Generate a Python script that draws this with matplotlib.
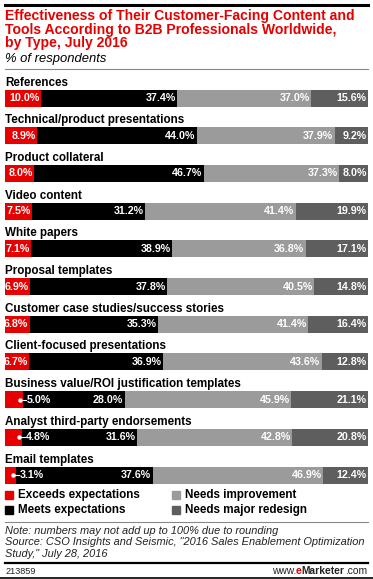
import matplotlib.pyplot as plt
import numpy as np

# data
categories = ["References", "Technical/product presentations", "Product collateral",
              "Video content", "White papers", "Proposal templates",
              "Customer case studies/success stories", "Client-focused presentations",
              "Business value/ROI justification templates",
              "Analyst third-party endorsements", "Email templates"]
exceeds = [10.0, 8.9, 8.0, 7.5, 7.1, 6.9, 6.8, 6.7, 5.0, 4.8, 3.1]
meets = [37.4, 44.0, 46.7, 31.2, 38.9, 37.8, 35.3, 36.9, 28.0, 31.6, 37.6]
improve = [37.0, 37.9, 37.3, 41.4, 36.8, 40.5, 41.4, 43.6, 45.9, 42.8, 46.9]
redesign = [15.6, 9.2, 8.0, 19.9, 17.1, 14.8, 16.4, 12.8, 21.1, 20.8, 12.4]
series_names = ["Exceeds expectations", "Meets expectations",
                "Needs improvement", "Needs major redesign"]
colors = ["#e60000", "#000000", "#9b9b9b", "#5e5e5e"]
title_lines = ["Effectiveness of Their Customer-Facing Content and",
               "Tools According to B2B Professionals Worldwide,",
               "by Type, July 2016"]
note_lines = ["Note: numbers may not add up to 100% due to rounding",
              "Source: CSO Insights and Seismic, \"2016 Sales Enablement Optimization",
              "Study,\" July 28, 2016"]

W, H = 373, 579
plt.rcParams['font.family'] = ['Liberation Sans', 'DejaVu Sans']
fig = plt.figure(figsize=(W / 100, H / 100), dpi=100)

def fy(p):  # pixel from top -> figure fraction
    return 1 - p / H

def fx(p):
    return p / W

# header
fig.add_artist(plt.Line2D([fx(5), fx(368)], [fy(5), fy(5)], color="black", lw=2.2))
for k, line in enumerate(title_lines):
    fig.text(fx(5), fy(16 + 13.6 * k), line, color="#e60000", fontsize=10.1,
             fontweight="bold", va="center", ha="left")
fig.text(fx(5), fy(59), "% of respondents", fontsize=9.4, style="italic", va="center")
fig.add_artist(plt.Line2D([fx(5), fx(368)], [fy(69), fy(69)], color="#888888", lw=0.8))

# bars
pitch = 37.7
c0 = 98.0
top_px, bot_px = 72, 488
ax = fig.add_axes([fx(5), fy(bot_px), fx(368) - fx(5), (bot_px - top_px) / H])
ax.set_xlim(0, 100)
ax.set_ylim((bot_px - c0) / pitch, (top_px - c0) / pitch)
ax.axis("off")

y = np.arange(len(categories))
left = np.zeros(len(categories))
data = [exceeds, meets, improve, redesign]
for vals, col in zip(data, colors):
    vals = np.array(vals)
    ax.barh(y, vals, left=left, height=17 / pitch, color=col, linewidth=0)
    for i, v in enumerate(vals):
        end = left[i] + v
        if col == colors[0] and v < 6:
            # small red segment: label pushed out with a pointer
            ax.plot([end - 1.0, end + 0.8], [i, i], color="white", lw=0.8)
            ax.plot([end - 1.0], [i], "o", color="white", ms=2.2)
            ax.text(end + 1.0, i, f"{v:.1f}%", color="white", fontsize=7.7,
                    fontweight="bold", va="center", ha="left")
        else:
            ax.text(end - 0.4, i, f"{v:.1f}%", color="white", fontsize=7.7,
                    fontweight="bold", va="center", ha="right")
    left = left + vals

for i, cat in enumerate(categories):
    ax.text(0, i - 15.5 / pitch, cat, fontsize=8.4, fontweight="bold",
            va="center", ha="left")

# legend
leg_pos = [(5, 495), (5, 510), (172, 495), (172, 510)]
for name, col, (lx, ly) in zip(series_names, colors, leg_pos):
    fig.patches.append(plt.Rectangle((fx(lx), fy(ly + 4)), fx(8), 8 / H,
                                     color=col, transform=fig.transFigure))
    fig.text(fx(lx + 13), fy(ly), name, fontsize=8.4, fontweight="bold", va="center")

# notes
fig.add_artist(plt.Line2D([fx(5), fx(368)], [fy(522), fy(522)], color="#888888", lw=0.8))
for k, line in enumerate(note_lines):
    fig.text(fx(5), fy(531 + 11.3 * k), line, fontsize=7.9, style="italic",
             va="center", color="#222222")
fig.add_artist(plt.Line2D([fx(5), fx(368)], [fy(563), fy(563)], color="black", lw=1.6))
fig.add_artist(plt.Line2D([fx(0), fx(373)], [fy(578), fy(578)], color="black", lw=1.2))
fig.text(fx(5), fy(571), "213859", fontsize=6.6, va="center", color="#222222")

# footer with mixed styles
fig.canvas.draw()
r = fig.canvas.get_renderer()
parts = [("www.", "normal", "#222222"), ("e", "bold", "#e60000"),
         ("Marketer", "bold", "#222222"), (".com", "normal", "#222222")]
widths = []
for s, w, c in parts:
    t = fig.text(0, 0, s, fontsize=7.4, fontweight=w)
    widths.append(t.get_window_extent(r).width)
    t.remove()
xcur = 367 - sum(widths)
for (s, w, c), wd in zip(parts, widths):
    fig.text(fx(xcur), fy(571), s, fontsize=7.4, fontweight=w, color=c, va="center")
    xcur += wd

fig.savefig("out.png", dpi=100)
